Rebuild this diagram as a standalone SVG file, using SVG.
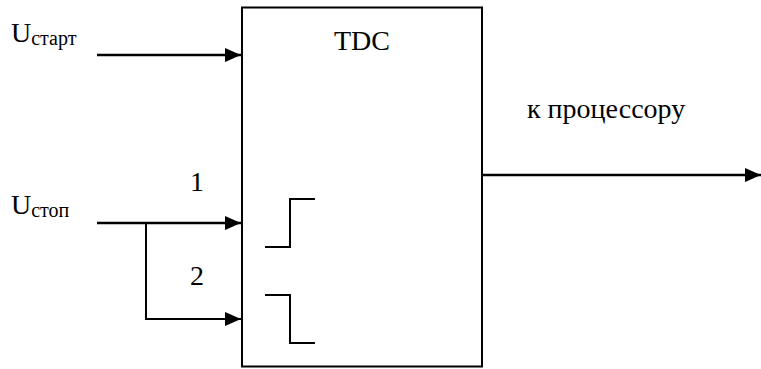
<svg xmlns="http://www.w3.org/2000/svg" width="761" height="369" viewBox="0 0 761 369">
<defs>
<marker id="arr" markerWidth="16" markerHeight="14" refX="16" refY="7" orient="auto" markerUnits="userSpaceOnUse">
<path d="M0,0 L16,7 L0,14 Z" fill="#000"/>
</marker>
<style>
.big{font-size:28px}
.sub{font-size:20px}
.ln{stroke:#000;stroke-width:2.5;fill:none}
.thin{stroke:#000;stroke-width:2;fill:none}
.box{stroke:#000;stroke-width:2;fill:#fff}
</style>
</defs>
<g id="tdc">
<rect class="box" x="242" y="7.5" width="240" height="359"/>
<text class="big" font-family="Liberation Serif" x="362" y="50" text-anchor="middle">TDC</text>
<path class="thin" d="M265,247 H290 V199 H315"/>
<path class="thin" d="M265,295 H290 V343 H315"/>
</g>
<g id="labels" font-family="Liberation Serif">
<text class="big" x="11" y="42">U<tspan class="sub" dy="3">старт</tspan></text>
<text class="big" x="11" y="214">U<tspan class="sub" dy="3">стоп</tspan></text>
<text class="big" x="190" y="191">1</text>
<text class="big" x="190" y="285">2</text>
<text class="big" x="527" y="118">к процессору</text>
</g>
<g id="connectors">
<line class="ln" x1="97" y1="55" x2="241" y2="55" marker-end="url(#arr)"/>
<line class="ln" x1="97" y1="223" x2="241" y2="223" marker-end="url(#arr)"/>
<polyline class="thin" points="146,223 146,319 241,319" marker-end="url(#arr)"/>
<line class="ln" x1="483" y1="175" x2="761" y2="175" marker-end="url(#arr)"/>
</g>
</svg>
